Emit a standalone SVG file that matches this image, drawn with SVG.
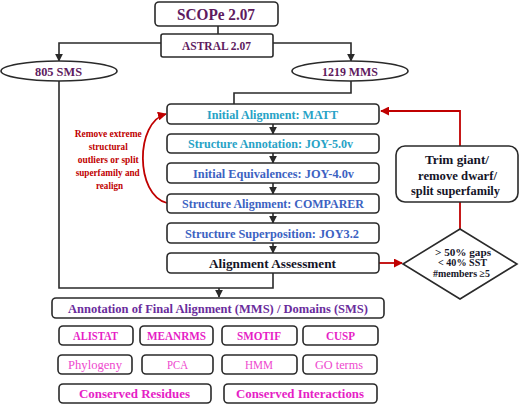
<svg xmlns="http://www.w3.org/2000/svg" width="520" height="405" viewBox="0 0 520 405">
<defs>
<style>
.box{fill:#fff;stroke:#2a2a2a;stroke-width:1.6}
.t{font-family:"Liberation Serif","Times New Roman",serif;font-weight:bold;text-anchor:middle}
.plum{fill:#5E1A5E}
.cyan{fill:#27A2C6}
.blue{fill:#3C62C2}
.dark{fill:#141428}
.purp{fill:#6A2C9C}
.mag{fill:#E61EC6}
.magr{fill:#EE48CE;font-weight:normal}
.red{fill:#C00000}
.ln{fill:none;stroke:#2a2a2a;stroke-width:1.6}
.rl{fill:none;stroke:#C00000;stroke-width:1.8}
</style>
<marker id="ab" viewBox="0 0 10 10" refX="9" refY="5" markerWidth="5" markerHeight="5" orient="auto"><path d="M0,0 L10,5 L0,10 z" fill="#2a2a2a"/></marker>
<marker id="ar" viewBox="0 0 10 10" refX="9" refY="5" markerWidth="5" markerHeight="5" orient="auto"><path d="M0,0 L10,5 L0,10 z" fill="#C00000"/></marker>
</defs>
<rect width="520" height="405" fill="#fff"/>

<g id="connectors">
<path class="ln" d="M218,26 V34"/>
<path class="ln" d="M161,43 H59 V61" marker-end="url(#ab)"/>
<path class="ln" d="M273,43 H351 V61" marker-end="url(#ab)"/>
<path class="ln" d="M351,81 V93 H234 V104"/>
<path class="ln" d="M273,124 V134" marker-end="url(#ab)"/>
<path class="ln" d="M273,153 V163" marker-end="url(#ab)"/>
<path class="ln" d="M273,183 V194" marker-end="url(#ab)"/>
<path class="ln" d="M273,213 V223" marker-end="url(#ab)"/>
<path class="ln" d="M273,243 V253" marker-end="url(#ab)"/>
<path class="ln" d="M59,81 V288 H273 V273"/>
<path class="ln" d="M219,288 V297" marker-end="url(#ab)"/>
<path class="rl" d="M379,263 H402" marker-end="url(#ar)"/>
<path class="rl" d="M460,229 V202"/>
<path class="rl" d="M460,146 V111 H381" marker-end="url(#ar)"/>
<path class="rl" d="M167,203 C135,195 135,122 166,114" marker-end="url(#ar)"/>
</g>

<g id="scope"><rect class="box" x="155" y="2" width="123" height="24" rx="4"/><text class="t plum" x="216" y="19.5" font-size="16" textLength="78" lengthAdjust="spacingAndGlyphs">SCOPe 2.07</text></g>
<g id="astral"><rect class="box" x="161" y="34" width="112" height="23" rx="2"/><text class="t plum" x="216.5" y="50" font-size="12.5" textLength="69" lengthAdjust="spacingAndGlyphs">ASTRAL 2.07</text></g>
<g id="sms"><ellipse class="box" cx="59" cy="71" rx="58" ry="10"/><text class="t plum" x="58.5" y="75.5" font-size="13" textLength="47" lengthAdjust="spacingAndGlyphs">805 SMS</text></g>
<g id="mms"><ellipse class="box" cx="350" cy="71" rx="58" ry="10"/><text class="t plum" x="350" y="75.5" font-size="13" textLength="56" lengthAdjust="spacingAndGlyphs">1219 MMS</text></g>

<g id="initial-alignment"><rect class="box" x="167" y="104" width="212" height="20" rx="4"/><text class="t cyan" x="272.5" y="118.5" font-size="13" textLength="131" lengthAdjust="spacingAndGlyphs">Initial Alignment: MATT</text></g>
<g id="structure-annotation"><rect class="box" x="167" y="134" width="212" height="19" rx="4"/><text class="t cyan" x="270.5" y="148" font-size="13" textLength="165" lengthAdjust="spacingAndGlyphs">Structure Annotation: JOY-5.0v</text></g>
<g id="initial-equivalences"><rect class="box" x="167" y="163" width="212" height="20" rx="4"/><text class="t blue" x="273.5" y="177.5" font-size="13" textLength="161" lengthAdjust="spacingAndGlyphs">Initial Equivalences: JOY-4.0v</text></g>
<g id="structure-alignment"><rect class="box" x="167" y="194" width="212" height="19" rx="4"/><text class="t blue" x="273" y="208" font-size="13" textLength="182" lengthAdjust="spacingAndGlyphs">Structure Alignment: COMPARER</text></g>
<g id="structure-superposition"><rect class="box" x="167" y="223" width="212" height="20" rx="4"/><text class="t blue" x="272" y="237.5" font-size="13" textLength="174" lengthAdjust="spacingAndGlyphs">Structure Superposition: JOY3.2</text></g>
<g id="alignment-assessment"><rect class="box" x="167" y="253" width="212" height="20" rx="4"/><text class="t dark" x="272.5" y="267.5" font-size="13" textLength="127" lengthAdjust="spacingAndGlyphs">Alignment Assessment</text></g>

<g id="remove-note">
<text class="t red" font-size="10.5">
<tspan x="109.5" y="136.5" textLength="67" lengthAdjust="spacingAndGlyphs">Remove extreme</tspan>
<tspan x="109.5" y="149.5" textLength="39" lengthAdjust="spacingAndGlyphs">structural</tspan>
<tspan x="109.5" y="162.5" textLength="61" lengthAdjust="spacingAndGlyphs">outliers or split</tspan>
<tspan x="109" y="175.5" textLength="64" lengthAdjust="spacingAndGlyphs">superfamily and</tspan>
<tspan x="109.5" y="188.5" textLength="27" lengthAdjust="spacingAndGlyphs">realign</tspan>
</text>
</g>

<g id="trim"><rect class="box" x="396" y="146" width="122" height="56" rx="9" stroke-width="2.2"/>
<text class="t dark" font-size="13"><tspan x="457" y="163.5" textLength="64" lengthAdjust="spacingAndGlyphs">Trim  giant/</tspan><tspan x="457.5" y="180" textLength="79" lengthAdjust="spacingAndGlyphs">remove dwarf/</tspan><tspan x="455.5" y="194.5" textLength="89" lengthAdjust="spacingAndGlyphs">split superfamily</tspan></text></g>

<g id="criteria"><path class="box" d="M403,264 L460,229 L517,264 L460,299 Z"/>
<text class="t dark" font-size="10.5"><tspan x="463" y="255.5" textLength="56" lengthAdjust="spacingAndGlyphs">&gt; 50% gaps</tspan><tspan x="462.5" y="266" textLength="49" lengthAdjust="spacingAndGlyphs">&lt; 40% SST</tspan><tspan x="461.5" y="277" textLength="57" lengthAdjust="spacingAndGlyphs">#members ≥5</tspan></text></g>

<g id="annotation"><rect class="box" x="52" y="298" width="332" height="20" rx="4"/><text class="t purp" x="218" y="312.5" font-size="13" textLength="300" lengthAdjust="spacingAndGlyphs">Annotation of Final Alignment (MMS) / Domains (SMS)</text></g>

<g id="alistat"><rect class="box" x="59" y="326" width="74" height="19" rx="4"/><text class="t mag" x="95.5" y="340" font-size="13" textLength="45" lengthAdjust="spacingAndGlyphs">ALISTAT</text></g>
<g id="meanrms"><rect class="box" x="140" y="326" width="73" height="19" rx="4"/><text class="t mag" x="176.5" y="340" font-size="13" textLength="59" lengthAdjust="spacingAndGlyphs">MEANRMS</text></g>
<g id="smotif"><rect class="box" x="222" y="326" width="75" height="19" rx="4"/><text class="t mag" x="259" y="340" font-size="13" textLength="44" lengthAdjust="spacingAndGlyphs">SMOTIF</text></g>
<g id="cusp"><rect class="box" x="303" y="326" width="75" height="19" rx="4"/><text class="t mag" x="340.5" y="340" font-size="13" textLength="29" lengthAdjust="spacingAndGlyphs">CUSP</text></g>

<g id="phylogeny"><rect class="box" x="58" y="355" width="74" height="19" rx="4"/><text class="t magr" x="95" y="369" font-size="13" textLength="54" lengthAdjust="spacingAndGlyphs">Phylogeny</text></g>
<g id="pca"><rect class="box" x="142" y="355" width="71" height="19" rx="4"/><text class="t magr" x="177.5" y="369" font-size="13" textLength="21" lengthAdjust="spacingAndGlyphs">PCA</text></g>
<g id="hmm"><rect class="box" x="222" y="355" width="75" height="19" rx="4"/><text class="t magr" x="259" y="369" font-size="13" textLength="28" lengthAdjust="spacingAndGlyphs">HMM</text></g>
<g id="goterms"><rect class="box" x="303" y="355" width="74" height="19" rx="4"/><text class="t magr" x="339" y="369" font-size="13" textLength="48" lengthAdjust="spacingAndGlyphs">GO terms</text></g>

<g id="conserved-residues"><rect class="box" x="59" y="384" width="152" height="19" rx="4"/><text class="t mag" x="134.5" y="398" font-size="13" textLength="111" lengthAdjust="spacingAndGlyphs">Conserved Residues</text></g>
<g id="conserved-interactions"><rect class="box" x="224" y="384" width="153" height="19" rx="4"/><text class="t mag" x="300" y="398" font-size="13" textLength="128" lengthAdjust="spacingAndGlyphs">Conserved Interactions</text></g>
</svg>
